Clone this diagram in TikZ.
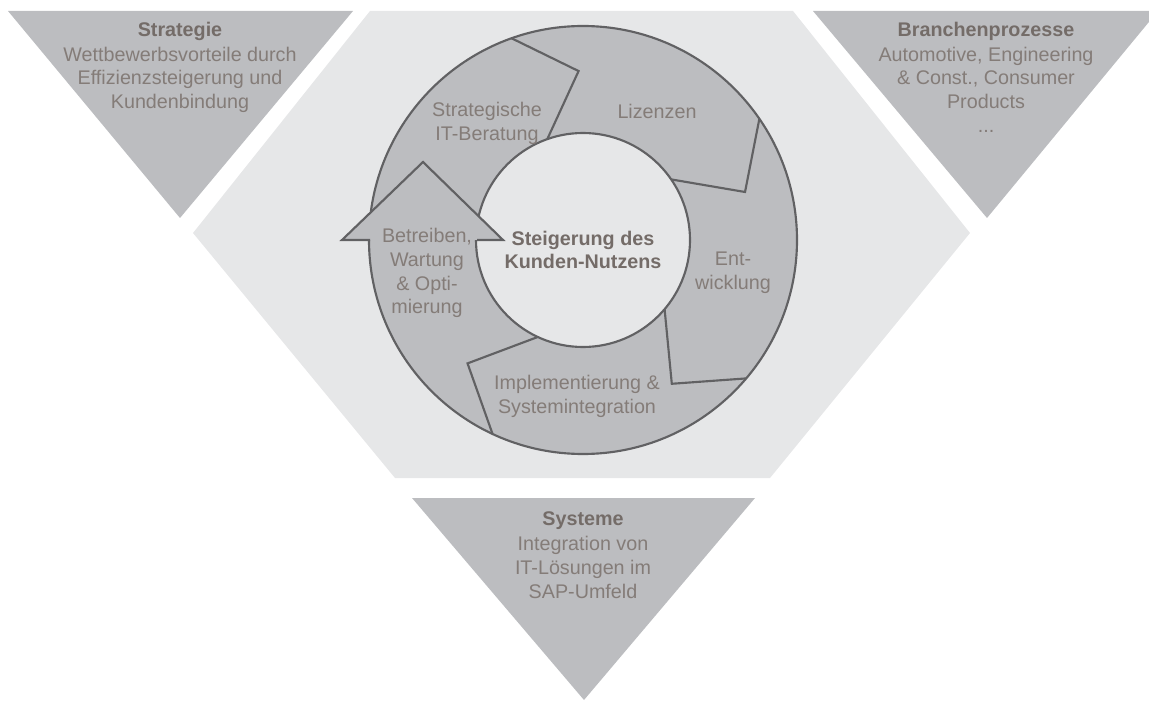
\documentclass[tikz,border=0pt]{standalone}
\usepackage{fontspec}
\setmainfont{Liberation Sans}
\usepackage{xcolor}
\usetikzlibrary{positioning, calc}

\definecolor{trigray}{HTML}{BCBDC0}
\definecolor{hexgray}{HTML}{E6E7E8}
\definecolor{linegray}{HTML}{616163}
\definecolor{txtgray}{HTML}{847C78}
\definecolor{txtdark}{HTML}{746C68}

\begin{document}
\begin{tikzpicture}[
    x=0.75pt, y=0.75pt,
    node distance=4.5pt, % gap between title and body lines
    tri/.style={fill=trigray},
    segline/.style={draw=linegray, line width=1.6pt, line join=miter},
    lbl/.style={text=txtgray, align=center, inner sep=0pt, font=\fontsize{14.8}{17.9}\selectfont},
    ttl/.style={lbl, text=txtdark, font=\fontsize{14.8}{17.9}\selectfont\bfseries}
]
\useasboundingbox (0,0) rectangle (1149,701);
\clip (0,0) rectangle (1149,701);

% light hexagon behind the cycle
\fill[hexgray] (370,690) -- (793,690) -- (970,468) -- (770,223) -- (395,223) -- (193,468) -- cycle;

% the three triangles
\fill[tri] (8,690) -- (353,690) -- (180,483) -- cycle;
\fill[tri] (813,690) -- (1158,690) -- (987,483) -- cycle;
\fill[tri] (412,203) -- (755,203) -- (584,1) -- cycle;

% ring of arrows
\coordinate (c) at (583,461);
\fill[trigray] (c) circle (214);
\draw[segline] (c) circle (214);
\draw[segline, fill=hexgray] (c) circle (107);

\draw[segline] ($(c)+(109.5:214)$) -- ($(c)+(91.5:169)$) -- ($(c)+(109.5:107)$);
\draw[segline] ($(c)+(34.5:214)$) -- ($(c)+(16.5:169)$) -- ($(c)+(34.5:107)$);
\draw[segline] ($(c)+(-40.3:214)$) -- ($(c)+(-58.3:169)$) -- ($(c)+(-40.3:107)$);
\draw[segline] ($(c)+(-115:214)$) -- ($(c)+(-133.1:169)$) -- ($(c)+(-115:107)$);

% head of the last arrow
\fill[trigray] (370,461) -- (342,461) -- (423,539) -- (503,461) -- (477,461) -- cycle;
\draw[segline] (370,461) -- (342,461) -- (423,539) -- (503,461) -- (477,461);

% texts in the triangles
\node[ttl] (strTitle) at (180,670) {Strategie};
\node[lbl] (strBody) [below=of strTitle] {Wettbewerbsvorteile durch\\Effizienzsteigerung und\\Kundenbindung};

\node[ttl] (brTitle) at (986,670) {Branchenprozesse};
\node[lbl] (brBody) [below=of brTitle] {Automotive, Engineering\\\& Const., Consumer\\Products\\...};

\node[ttl] (sysTitle) at (583,180) {Systeme};
\node[lbl] (sysBody) [below=of sysTitle] {Integration von\\IT-Lösungen im\\SAP-Umfeld};

% texts in the ring
\node[ttl] (hub) at (583,451) {Steigerung des\\Kunden-Nutzens};
\node[lbl] (beratung) at (487,578) {Strategische\\IT-Beratung};
\node[lbl] (lizenzen) at (657,590) {Lizenzen};
\node[lbl] (entw) at (733,428) {Ent-\\wicklung};
\node[lbl] (impl) at (577,305) {Implementierung \&\\Systemintegration};
\node[lbl] (betrieb) at (427,428) {Betreiben,\\Wartung\\\& Opti-\\mierung};

\end{tikzpicture}
\end{document}
